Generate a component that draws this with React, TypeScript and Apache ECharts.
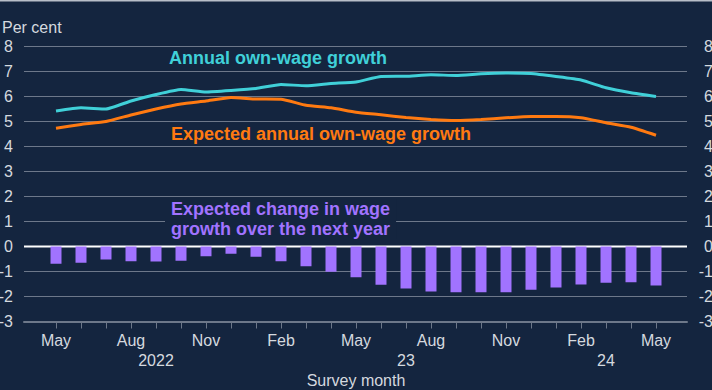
import React, { useEffect, useRef } from "react";
import * as echarts from "echarts";

const categories = [
  "2022-05", "2022-06", "2022-07", "2022-08", "2022-09", "2022-10", "2022-11", "2022-12",
  "2023-01", "2023-02", "2023-03", "2023-04", "2023-05", "2023-06", "2023-07", "2023-08",
  "2023-09", "2023-10", "2023-11", "2023-12", "2024-01", "2024-02", "2024-03", "2024-04", "2024-05",
];
const monthNames = ["Jan", "Feb", "Mar", "Apr", "May", "Jun", "Jul", "Aug", "Sep", "Oct", "Nov", "Dec"];

const annualOwnWage = [
  5.42, 5.55, 5.5, 5.82, 6.08, 6.28, 6.18, 6.24, 6.32, 6.48, 6.43, 6.52, 6.58,
  6.8, 6.81, 6.87, 6.84, 6.91, 6.94, 6.92, 6.8, 6.66, 6.35, 6.15, 6.0,
];
const expectedAnnualOwnWage = [
  4.73, 4.88, 5.0, 5.26, 5.5, 5.7, 5.82, 5.96, 5.9, 5.89, 5.65, 5.55, 5.37,
  5.27, 5.16, 5.08, 5.04, 5.08, 5.15, 5.2, 5.2, 5.15, 4.95, 4.77, 4.45,
];
const expectedChange = [
  -0.69, -0.65, -0.52, -0.59, -0.6, -0.57, -0.39, -0.29, -0.41, -0.59, -0.79, -1.01, -1.23,
  -1.53, -1.68, -1.8, -1.83, -1.83, -1.83, -1.73, -1.64, -1.52, -1.45, -1.43, -1.56,
];
const yearLabelIndex = [4, 14, 22];
const yearLabelText = ["2022", "23", "24"];
const zeroLine = [[0, 0], [1, 0]];

const BG = "#14253f";
const GRID = "#6d788a";
const TEXT = "#d5d9df";
const CYAN = "#40d0d8";
const ORANGE = "#ff7a11";
const PURPLE = "#a173ff";
const FONT = "Liberation Sans, Arial, sans-serif";

export default function App() {
  const ref = useRef<HTMLDivElement>(null);
  useEffect(() => {
    if (!ref.current) return;
    const chart = echarts.init(ref.current, undefined, { renderer: "svg" });
    const labelStyle = { color: TEXT, fontSize: 16, fontFamily: FONT };
    chart.setOption({
      animation: false,
      backgroundColor: BG,
      textStyle: { fontFamily: FONT },
      grid: [
        { left: 24, right: 25, top: 46.5, bottom: 68.5, containLabel: false, outerBoundsMode: "none" },
        { left: 56, right: 56, top: 46.5, bottom: 68.5, containLabel: false, outerBoundsMode: "none" },
      ],
      xAxis: [
        {
          type: "value", gridIndex: 0, min: 0, max: 1,
          axisLine: { show: true, onZero: false, lineStyle: { color: GRID, width: 2 } },
          axisTick: { show: false }, axisLabel: { show: false }, splitLine: { show: false },
        },
        {
          type: "category", gridIndex: 1, data: categories, boundaryGap: false,
          axisLine: { show: false, onZero: false },
          axisTick: { show: true, interval: 0, length: 7, lineStyle: { color: GRID, width: 1 } },
          axisLabel: {
            ...labelStyle, interval: 2, margin: 11,
            formatter: (v: string) => monthNames[parseInt(v.slice(5), 10) - 1],
          },
          name: "Survey month", nameLocation: "middle", nameGap: 51,
          nameTextStyle: { ...labelStyle },
        },
        {
          type: "category", gridIndex: 1, data: categories, boundaryGap: false,
          position: "bottom", offset: 20,
          axisLine: { show: false, onZero: false }, axisTick: { show: false },
          axisLabel: {
            ...labelStyle, margin: 11,
            interval: (i: number) => yearLabelIndex.includes(i),
            formatter: (_v: string, i: number) => {
              const k = yearLabelIndex.indexOf(i);
              return k >= 0 ? yearLabelText[k] : "";
            },
          },
        },
      ],
      yAxis: [
        {
          type: "value", gridIndex: 0, min: -3, max: 8, interval: 1, position: "left",
          axisLine: { show: false }, axisTick: { show: false },
          axisLabel: { ...labelStyle, margin: 11 },
          splitLine: { show: true, lineStyle: { color: GRID, width: 1 } },
        },
        {
          type: "value", gridIndex: 0, min: -3, max: 8, interval: 1, position: "right",
          axisLine: { show: false }, axisTick: { show: false },
          axisLabel: { ...labelStyle, margin: 26, align: "right" },
          splitLine: { show: false },
        },
        { type: "value", gridIndex: 1, min: -3, max: 8, interval: 1, show: false },
      ],
      series: [
        {
          type: "line", xAxisIndex: 0, yAxisIndex: 0, data: zeroLine, symbol: "none",
          silent: true, lineStyle: { color: "#ffffff", width: 2 }, z: 1,
        },
        {
          type: "bar", xAxisIndex: 1, yAxisIndex: 2, data: expectedChange, barWidth: 11,
          itemStyle: { color: PURPLE }, z: 2,
        },
        {
          type: "line", xAxisIndex: 1, yAxisIndex: 2, data: annualOwnWage, symbol: "none",
          smooth: 0.15, lineStyle: { color: CYAN, width: 3 }, z: 4,
        },
        {
          type: "line", xAxisIndex: 1, yAxisIndex: 2, data: expectedAnnualOwnWage, symbol: "none",
          smooth: 0.15, lineStyle: { color: ORANGE, width: 3 }, z: 4,
        },
      ],
      graphic: [
        { type: "rect", left: 0, top: 0, shape: { width: 712, height: 1.5 }, style: { fill: "#b8bec8" }, silent: true },
        {
          type: "text", left: 2, top: 19, silent: true,
          style: { text: "Per cent", fill: TEXT, fontSize: 16, fontFamily: FONT },
        },
        {
          type: "text", x: 169, y: 58, silent: true,
          style: { text: "Annual own-wage growth", fill: CYAN, fontSize: 18, fontWeight: "bold", fontFamily: FONT, verticalAlign: "middle" },
        },
        {
          type: "text", x: 171, y: 134, silent: true,
          style: { text: "Expected annual own-wage growth", fill: ORANGE, fontSize: 18, fontWeight: "bold", fontFamily: FONT, verticalAlign: "middle" },
        },
        {
          type: "text", x: 165, y: 199, silent: true, z: 10,
          style: {
            text: "Expected change in wage\ngrowth over the next year",
            fill: PURPLE, fontSize: 18, fontWeight: "bold", fontFamily: FONT,
            lineHeight: 20, backgroundColor: BG, padding: [0, 6, 0, 6],
          },
        },
      ],
    });
    return () => chart.dispose();
  }, []);
  return <div ref={ref} style={{ position: "fixed", left: 0, top: 0, width: 712, height: 390 }} />;
}
